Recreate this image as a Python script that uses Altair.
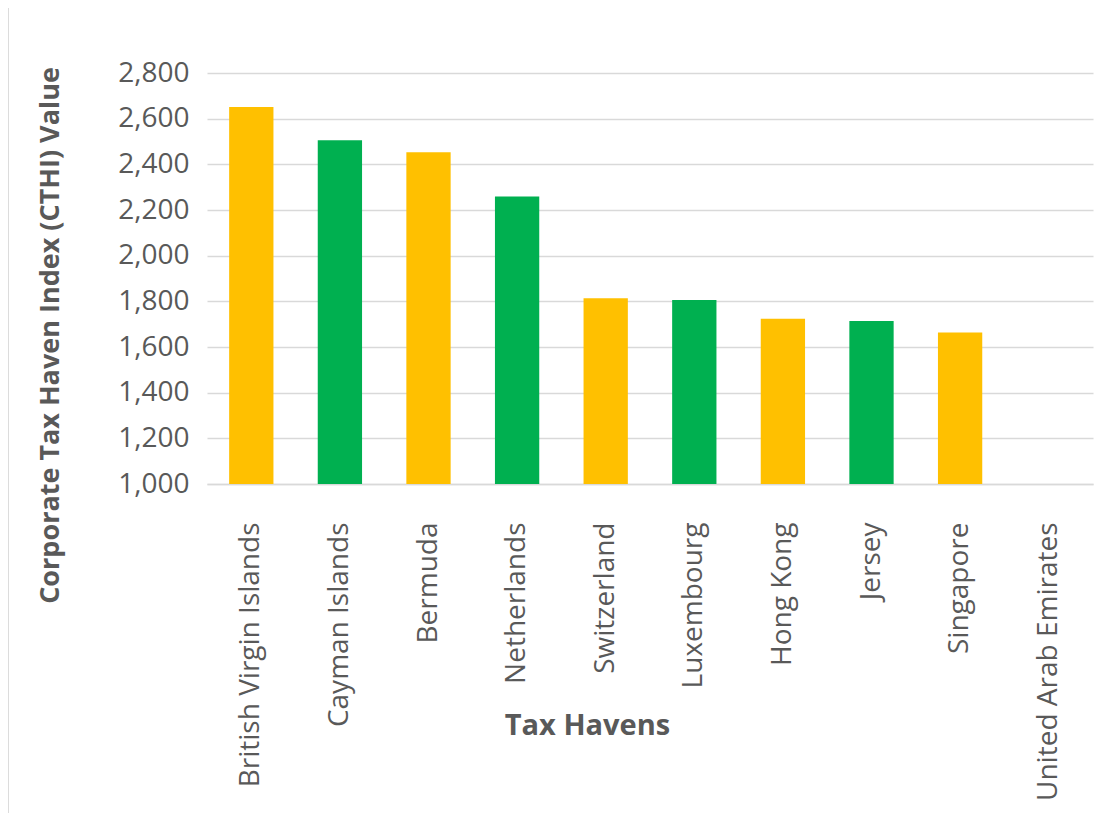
import altair as alt
import pandas as pd

countries = [
    "British Virgin Islands", "Cayman Islands", "Bermuda", "Netherlands",
    "Switzerland", "Luxembourg", "Hong Kong", "Jersey", "Singapore",
    "United Arab Emirates",
]
cthi_values = [2651, 2505, 2453, 2259, 1813, 1806, 1724, 1714, 1663, None]
groups = ["A", "B", "A", "B", "A", "B", "A", "B", "A", "B"]
group_colors = ["#FFC000", "#00B050"]
y_ticks = [1000, 1200, 1400, 1600, 1800, 2000, 2200, 2400, 2600, 2800]

df = pd.DataFrame({"country": countries, "value": cthi_values, "group": groups})

FONT = "Open Sans"
TEXT = "#595959"
GRID = "#D9D9D9"

bars = alt.Chart(df).mark_bar().encode(
    x=alt.X(
        "country:N",
        sort=countries,
        scale=alt.Scale(domain=countries, paddingInner=0.5, paddingOuter=0.25),
        axis=alt.Axis(
            title="Tax Havens",
            labelAngle=-90,
            labelPadding=38,
            labelFontSize=28,
            labelColor=TEXT,
            labelFont=FONT,
            ticks=False,
            domainColor=GRID,
            domainWidth=1.5,
            titleFont=FONT,
            titleFontSize=29,
            titleFontWeight="bold",
            titleColor=TEXT,
            titleX=380,
            titleY=241,
            titleAlign="center",
            titleBaseline="middle",
            labelLimit=400,
        ),
    ),
    y=alt.Y(
        "value:Q",
        scale=alt.Scale(domain=[1000, 2800], zero=False, nice=False),
        axis=alt.Axis(
            title="Corporate Tax Haven Index (CTHI) Value",
            values=y_ticks,
            format=",.0f",
            labelFontSize=28,
            labelColor=TEXT,
            labelFont=FONT,
            labelPadding=18,
            ticks=False,
            domain=False,
            gridColor=GRID,
            gridWidth=1.5,
            titleFont=FONT,
            titleFontSize=27,
            titleFontWeight="bold",
            titleColor=TEXT,
            titleX=-157,
            titleY=262,
            titleAngle=270,
            titleAlign="center",
            titleBaseline="middle",
        ),
    ),
    y2=alt.datum(1000),
    color=alt.Color("group:N", scale=alt.Scale(domain=["A", "B"], range=group_colors), legend=None),
)

border = alt.Chart(df).mark_rule(color=GRID, strokeWidth=1.5).encode(
    x=alt.value(-199.5), y=alt.value(-65), y2=alt.value(748)
)

chart = alt.layer(bars, border).properties(
    width=886,
    height=411,
    autosize=alt.AutoSizeParams(type="none"),
    padding={"left": 199, "top": 65, "right": 19, "bottom": 329},
).configure_view(stroke=None)

chart.save("out.html", embed_options={"renderer": "svg", "actions": False})
